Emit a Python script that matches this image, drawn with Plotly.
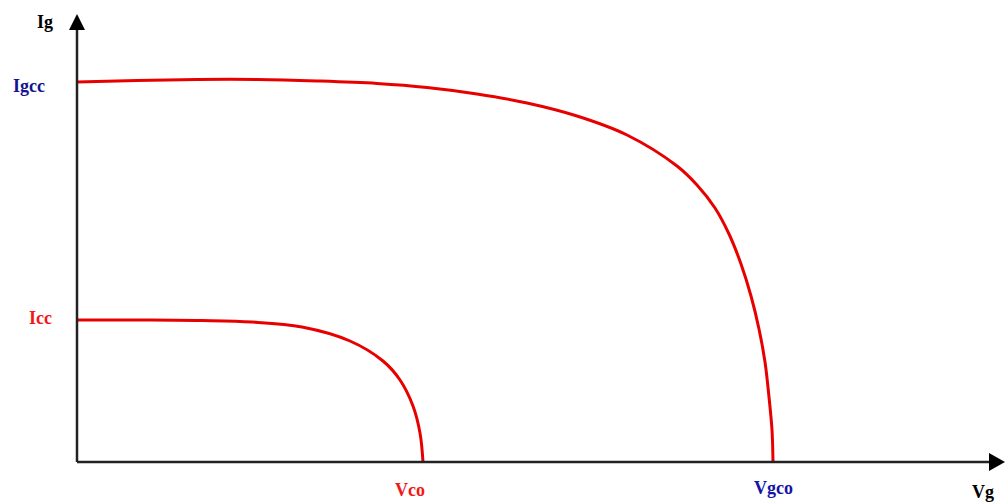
import plotly.graph_objects as go

# I-V characteristics: generator curve (outer) and cell curve (inner)
vg_gen = [0, 60, 120, 180, 240, 300, 350, 400, 450, 500, 550, 600, 620, 638, 652, 664, 674, 682, 688, 692, 695, 696]
ig_gen = [380, 381.5, 382.5, 382.5, 381, 378.5, 374.5, 368, 359, 346, 327, 296, 277, 254, 228, 198, 166, 133, 100, 65, 32, 0]

vg_cell = [0, 70, 125, 175, 225, 273, 306, 323, 336, 343, 346]
ig_cell = [142, 142, 141.5, 140, 135, 121, 101, 82, 56, 29, 0]

# characteristic points named on the axes
igcc, icc = 380, 142
vco, vgco = 346, 696

RED = "rgb(232,0,0)"
AXIS = "#222222"
FONT = "Liberation Serif"

fig = go.Figure()
for xs, ys in [(vg_gen, ig_gen), (vg_cell, ig_cell)]:
    fig.add_trace(go.Scatter(x=xs, y=ys, mode="lines",
                             line=dict(color=RED, width=3, shape="spline", smoothing=1.0),
                             hoverinfo="skip", showlegend=False))

# axes with arrowheads
fig.add_shape(type="line", x0=0, y0=0, x1=0, y1=436, line=dict(color=AXIS, width=2.5))
fig.add_shape(type="line", x0=0, y0=0, x1=916, y1=0, line=dict(color=AXIS, width=2.5))
fig.add_shape(type="path", path="M -8 432 L 8 432 L 0 448 Z", fillcolor="black", line=dict(width=0))
fig.add_shape(type="path", path="M 912 -9 L 912 9 L 928 0 Z", fillcolor="black", line=dict(width=0))

def label(text, x, y, color, xanchor="center"):
    fig.add_annotation(x=x, y=y, text=f"<b>{text}</b>", showarrow=False,
                       xanchor=xanchor, yanchor="middle",
                       font=dict(family=FONT, size=18, color=color))

label("Ig", -32, 440, "black")
label("Igcc", -48, igcc - 4, "#14148f")
label("Icc", -37, icc + 2, "#f01818")
label("Vco", vco - 13, -28, "#f01818")
label("Vgco", vgco, -26, "#1414a8")
label("Vg", 906, -30, "black")

fig.update_layout(
    width=1005, height=502,
    margin=dict(l=0, r=0, t=0, b=0),
    paper_bgcolor="white", plot_bgcolor="white",
    xaxis=dict(range=[-77, 928], visible=False, fixedrange=True),
    yaxis=dict(range=[-40, 462], visible=False, fixedrange=True),
)

fig.write_html("out.html")
